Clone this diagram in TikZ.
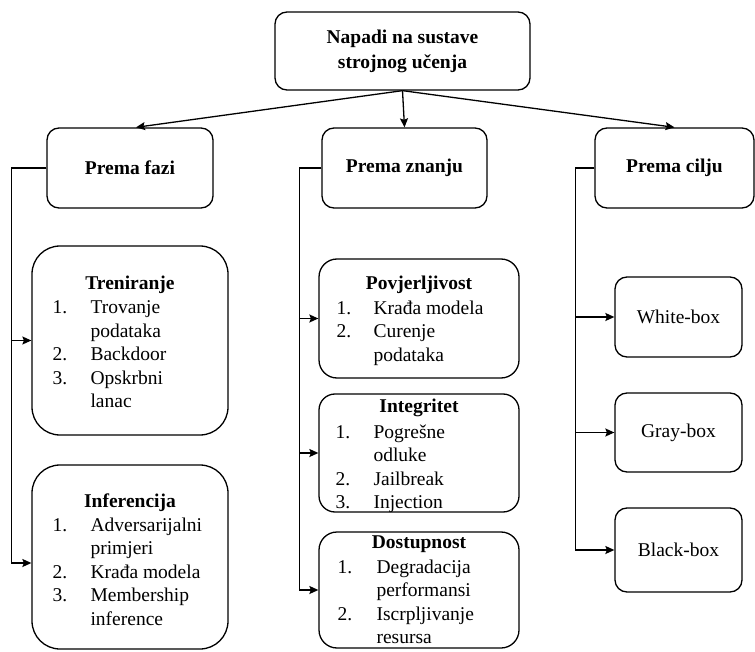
\documentclass[tikz,border=0pt]{standalone}
\usepackage{fontspec}
\setmainfont{Liberation Serif}
\usepackage{tikz}
\usetikzlibrary{arrows.meta}
\usetikzlibrary{positioning}
\usetikzlibrary{calc}

\newcommand{\numlist}[2]{\begin{tabular}{@{}p{#1}@{}l@{}}#2\end{tabular}}

\tikzset{
	box/.style={draw, line width=1.3pt, rounded corners=12pt, inner sep=0pt},
	head/.style={font=\bfseries\fontsize{19.5}{25}\selectfont, inner sep=0pt},
	plain/.style={font=\fontsize{19.5}{23.5}\selectfont, inner sep=0pt},
	items/.style={font=\fontsize{19.5}{23.5}\selectfont, inner sep=0pt, anchor=north west},
	conn/.style={line width=1.3pt, -{Stealth[length=9pt,width=8pt,inset=1.5pt]}},
}

\begin{document}
\begin{tikzpicture}[x=1pt, y=-1pt]
		\useasboundingbox (0,0) rectangle (755,652);
		
		%top level
		\node[box, head, minimum width=255pt, minimum height=78pt, align=center] (root) at (402.5,51) {Napadi na sustave\\strojnog učenja};
		
		\node[box, head, minimum width=166pt, minimum height=80pt] (faza) at (130,168) {Prema fazi};
		\node[box, head, minimum width=165pt, minimum height=80pt] (znanje) at (404.5,168) {Prema znanju};
		\node[box, head, minimum width=159pt, minimum height=80pt] (cilj) at (674.5,168) {Prema cilju};
		
		%prema fazi
		\node[box, rounded corners=28pt, minimum width=196pt, minimum height=189pt] (tren) at (130,340.5) {};
		\node[head, anchor=base] (trenH) at ([yshift=-44pt]tren.north) {Treniranje};
		\node[items] (trenL) at ([xshift=21pt, yshift=-51.5pt]tren.north west) {\numlist{38pt}{1. & Trovanje\\ & podataka\\ 2. & Backdoor\\ 3. & Opskrbni\\ & lanac}};
		
		\node[box, rounded corners=28pt, minimum width=196pt, minimum height=184pt] (inf) at (130,557) {};
		\node[head, anchor=base] (infH) at ([yshift=-43.5pt]inf.north) {Inferencija};
		\node[items] (infL) at ([xshift=21pt, yshift=-50pt]inf.north west) {\numlist{38pt}{1. & Adversarijalni\\ & primjeri\\ 2. & Krađa modela\\ 3. & Membership\\ & inference}};
		
		%prema znanju
		\node[box, rounded corners=18pt, minimum width=200pt, minimum height=119pt] (povj) at (419,318.5) {};
		\node[head, anchor=base] (povjH) at ([yshift=-31.5pt]povj.north) {Povjerljivost};
		\node[items] (povjL) at ([xshift=18pt, yshift=-39pt]povj.north west) {\numlist{37pt}{1. & Krađa modela\\ 2. & Curenje\\ & podataka}};
		
		\node[box, rounded corners=16pt, minimum width=200pt, minimum height=118pt] (integ) at (419,453) {};
		\node[head, anchor=base] (integH) at ([yshift=-19.5pt]integ.north) {Integritet};
		\node[items] (integL) at ([xshift=17pt, yshift=-28pt]integ.north west) {\numlist{38pt}{1. & Pogrešne\\ & odluke\\ 2. & Jailbreak\\ 3. & Injection}};
		
		\node[box, rounded corners=18pt, minimum width=200pt, minimum height=116pt] (dost) at (419,590) {};
		\node[head, anchor=base] (dostH) at ([yshift=-17.5pt]dost.north) {Dostupnost};
		\node[items] (dostL) at ([xshift=19pt, yshift=-25pt]dost.north west) {\numlist{39pt}{1. & Degradacija\\ & performansi\\ 2. & Iscrpljivanje\\ & resursa}};
		
		%prema cilju
		\node[box, plain, minimum width=127pt, minimum height=80pt] (white) at (678.5,317) {White-box};
		\node[box, plain, minimum width=127pt, minimum height=79pt] (gray) at (678.5,432.5) {Gray-box};
		\node[box, plain, minimum width=127pt, minimum height=84pt] (black) at (678.5,550) {Black-box};
		
		%arrows
		\draw[conn] (root.south) -- ([xshift=6pt]faza.north);
		\draw[conn] (root.south) -- (znanje.north);
		\draw[conn] (root.south) -- (cilj.north);
		
		\draw[conn] (faza.west) -- ++(-35,0) |- (tren.west);
		\draw[conn] (faza.west) -- ++(-35,0) |- ([yshift=-6pt]inf.west);
		
		\draw[conn] (znanje.west) -- ++(-22,0) |- (povj.west);
		\draw[conn] (znanje.west) -- ++(-22,0) |- (integ.west);
		\draw[conn] (znanje.west) -- ++(-22,0) |- (dost.west);
		
		\draw[conn] (cilj.west) -- ++(-19,0) |- (white.west);
		\draw[conn] (cilj.west) -- ++(-19,0) |- (gray.west);
		\draw[conn] (cilj.west) -- ++(-19,0) |- (black.west);
		\end{tikzpicture}
\end{document}
